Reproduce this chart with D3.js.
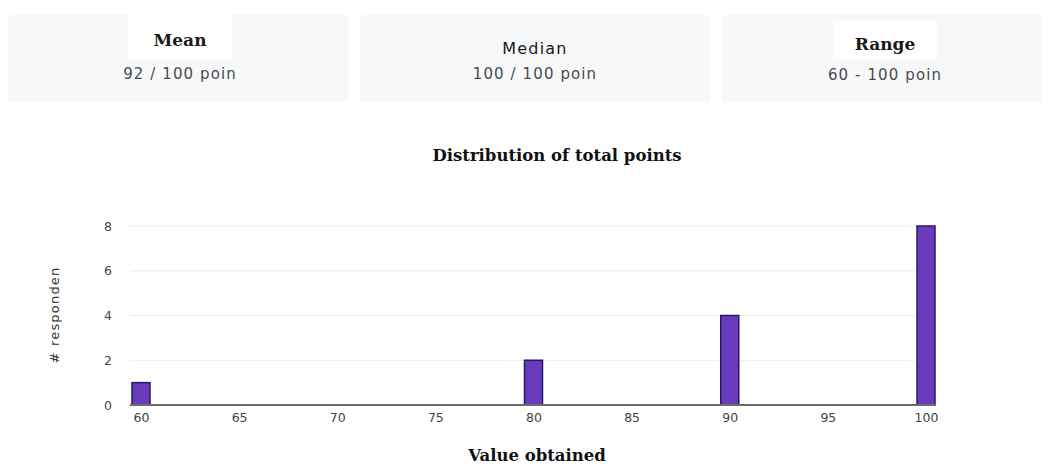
<!DOCTYPE html>
<html>
<head>
<meta charset="utf-8">
<script src="https://cdn.jsdelivr.net/npm/d3@7/dist/d3.min.js"></script>
<style>
  html, body { margin: 0; padding: 0; background: #ffffff; }
  svg { display: block; }
</style>
</head>
<body>
<svg id="chart" width="1045" height="466"></svg>
<script>
// Summary cards
const cardTitles = ["Mean", "Median", "Range"];
const cardValues = ["92 / 100 poin", "100 / 100 poin", "60 - 100 poin"];

// Histogram data: score obtained and number of respondents
const scores = [60, 80, 90, 100];
const counts = [1, 2, 4, 8];
const xTicks = [60, 65, 70, 75, 80, 85, 90, 95, 100];
const yTicks = [0, 2, 4, 6, 8];

const chartTitle = "Distribution of total points";
const xTitle = "Value obtained";
const yTitle = "# responden";

const svg = d3.select("#chart");
const serif = "'DejaVu Serif', serif";
const sans = "'DejaVu Sans', sans-serif";

// ---- cards ----
const cards = [
  { x: 8, w: 340, titleBox: [128, 15, 104, 45], titleFont: serif, titleWeight: "bold", titleSize: 17, ls: 0, ty: 46, vy: 79 },
  { x: 360, w: 350, titleBox: null, titleFont: sans, titleWeight: "normal", titleSize: 16, ls: 1.2, ty: 54, vy: 79 },
  { x: 722, w: 320, titleBox: [833, 20, 104, 40], titleFont: serif, titleWeight: "bold", titleSize: 17, ls: 0, ty: 50, vy: 80 }
];
cards.forEach((c, i) => {
  const g = svg.append("g");
  g.append("rect").attr("x", c.x).attr("y", 15).attr("width", c.w).attr("height", 87)
    .attr("rx", 3).attr("fill", "#f7f8fa");
  if (c.titleBox) {
    g.append("rect").attr("x", c.titleBox[0]).attr("y", c.titleBox[1])
      .attr("width", c.titleBox[2]).attr("height", c.titleBox[3]).attr("fill", "#ffffff");
  }
  const cx = c.titleBox ? c.titleBox[0] + c.titleBox[2] / 2 : c.x + c.w / 2;
  g.append("text").attr("x", cx).attr("y", c.ty).attr("text-anchor", "middle")
    .attr("font-family", c.titleFont).attr("font-weight", c.titleWeight)
    .attr("letter-spacing", c.ls)
    .attr("font-size", c.titleSize).attr("fill", "#1a1a1a").text(cardTitles[i]);
  g.append("text").attr("x", cx).attr("y", c.vy).attr("text-anchor", "middle")
    .attr("font-family", sans).attr("font-size", 15).attr("letter-spacing", 1.1)
    .attr("fill", "#4a4a4a").text(cardValues[i]);
});

// ---- histogram ----
const plotLeft = 130, plotRight = 936, baseY = 405;
const x = d3.scaleLinear().domain([60, 100]).range([141, 926]);
const y = d3.scaleLinear().domain([0, 8]).range([baseY, 226]);
const barW = 18;

svg.append("text").attr("x", 557).attr("y", 161).attr("text-anchor", "middle")
  .attr("font-family", serif).attr("font-weight", "bold").attr("font-size", 16.5)
  .attr("fill", "#111").text(chartTitle);

// gridlines
svg.append("g").selectAll("line").data(yTicks.filter(d => d > 0)).join("line")
  .attr("x1", plotLeft).attr("x2", 915)
  .attr("y1", d => y(d)).attr("y2", d => y(d))
  .attr("stroke", "#ececec").attr("stroke-width", 1.2);

// y tick labels
const yAxis = d3.axisLeft(y).tickValues(yTicks).tickSize(0).tickPadding(0).tickFormat(d3.format("d"));
const gy = svg.append("g").attr("transform", `translate(112,0)`).call(yAxis);
gy.select(".domain").remove();
gy.selectAll("text").attr("font-family", sans).attr("font-size", 12.5).attr("fill", "#444");

// x tick labels
const xAxis = d3.axisBottom(x).tickValues(xTicks).tickSize(0).tickPadding(0).tickFormat(d3.format("d"));
const gx = svg.append("g").attr("transform", `translate(0,${baseY + 8})`).call(xAxis);
gx.select(".domain").remove();
gx.selectAll("text").attr("font-family", sans).attr("font-size", 12.5).attr("fill", "#444");

// bars
svg.append("g").selectAll("rect").data(scores.map((s, i) => ({ s, c: counts[i] }))).join("rect")
  .attr("x", d => x(d.s) - barW / 2)
  .attr("y", d => y(d.c))
  .attr("width", barW)
  .attr("height", d => baseY - y(d.c))
  .attr("fill", "#6a3cbc")
  .attr("stroke", "#24186a").attr("stroke-width", 1.5);

// baseline
svg.append("line").attr("x1", plotLeft).attr("x2", plotRight)
  .attr("y1", baseY).attr("y2", baseY).attr("stroke", "#6b6b6b").attr("stroke-width", 2);

// axis titles
svg.append("text").attr("x", 537).attr("y", 461).attr("text-anchor", "middle")
  .attr("font-family", serif).attr("font-weight", "bold").attr("font-size", 16.5)
  .attr("fill", "#111").text(xTitle);
svg.append("text").attr("transform", "translate(59,315) rotate(-90)")
  .attr("text-anchor", "middle").attr("font-family", sans).attr("font-size", 13)
  .attr("letter-spacing", 1.2).attr("fill", "#333").text(yTitle);
</script>
</body>
</html>
